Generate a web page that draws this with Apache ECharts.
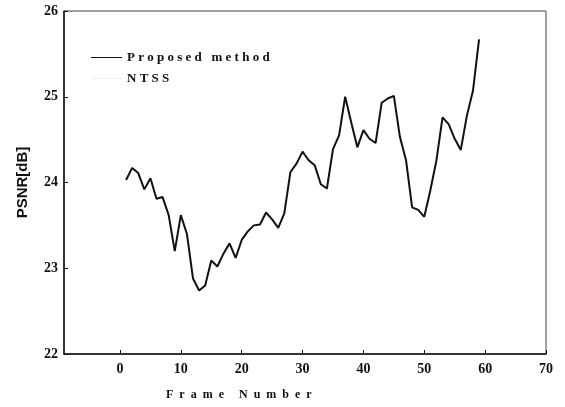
<!DOCTYPE html>
<html>
<head>
<meta charset="utf-8">
<script src="https://cdn.jsdelivr.net/npm/echarts@6/dist/echarts.min.js"></script>
<style>
  html, body { margin: 0; padding: 0; background: #fff; }
  #chart { width: 565px; height: 407px; }
</style>
</head>
<body>
<div id="chart"></div>
<script>
// Frame indices and PSNR per frame
const frames = [];
for (let f = 1; f <= 59; f++) frames.push(f);
const proposedPSNR = [
  24.03, 24.17, 24.11, 23.92, 24.05, 23.81, 23.83, 23.62, 23.20, 23.62,
  23.40, 22.88, 22.74, 22.80, 23.09, 23.02, 23.17, 23.29, 23.12, 23.33,
  23.43, 23.50, 23.51, 23.65, 23.57, 23.47, 23.64, 24.12, 24.22, 24.36,
  24.26, 24.20, 23.98, 23.93, 24.39, 24.55, 25.00, 24.70, 24.41, 24.61,
  24.51, 24.46, 24.93, 24.98, 25.01, 24.53, 24.26, 23.71, 23.68, 23.60,
  23.91, 24.26, 24.76, 24.68, 24.51, 24.38, 24.78, 25.07, 25.67
];
const xTicks = [0, 10, 20, 30, 40, 50, 60, 70];
const yTicks = [22, 23, 24, 25, 26];
const seriesNames = ['P r o p o s e d   m e t h o d', 'N T S S'];
const xAxisTitle = 'F  r  a  m  e     N  u  m  b  e  r';

const chart = echarts.init(document.getElementById('chart'));
const tickFont = { fontFamily: 'Liberation Serif', fontWeight: 'bold', fontSize: 14, color: '#111' };

chart.setOption({
  animation: false,
  backgroundColor: '#fff',
  grid: { left: 64, right: 19, top: 11, bottom: 53, show: true, borderColor: '#444', borderWidth: 1 },
  legend: {
    left: 86, top: 46, orient: 'vertical', itemGap: 8,
    itemWidth: 31, itemHeight: 13,
    icon: 'path://M0,6 L31,6 L31,7 L0,7 Z',
    textStyle: { fontFamily: 'Liberation Serif', fontWeight: 'bold', fontSize: 13, color: '#111' },
    data: seriesNames
  },
  xAxis: {
    type: 'value', min: -9.2, max: 70,
    splitLine: { show: false },
    axisLine: { onZero: false, lineStyle: { color: '#111', width: 1.5 } },
    axisTick: { inside: true, length: 4, customValues: xTicks, lineStyle: { color: '#111' } },
    axisLabel: { customValues: xTicks, margin: 8, ...tickFont }
  },
  yAxis: {
    type: 'value', min: 22, max: 26,
    splitLine: { show: false },
    axisLine: { show: true, onZero: false, lineStyle: { color: '#111', width: 1.5 } },
    axisTick: { show: true, inside: true, length: 4, customValues: yTicks, lineStyle: { color: '#111' } },
    axisLabel: { customValues: yTicks, margin: 6, ...tickFont },
    name: 'PSNR[dB]', nameLocation: 'middle', nameGap: 34, nameRotate: 90,
    nameTextStyle: { fontFamily: 'Liberation Sans', fontWeight: 'bold', fontSize: 15, color: '#111' }
  },
  graphic: [{
    type: 'text', left: 166, top: 389,
    style: { text: xAxisTitle, font: 'bold 12px "Liberation Serif"', fill: '#111' }
  }],
  series: [
    {
      name: seriesNames[0], type: 'line', showSymbol: false,
      data: frames.map((f, i) => [f, proposedPSNR[i]]),
      lineStyle: { color: '#111', width: 2 }, itemStyle: { color: '#111' }
    },
    {
      name: seriesNames[1], type: 'line', showSymbol: false, data: [],
      lineStyle: { color: '#f4f4f4', width: 1 }, itemStyle: { color: '#f4f4f4' }
    }
  ]
});
</script>
</body>
</html>
